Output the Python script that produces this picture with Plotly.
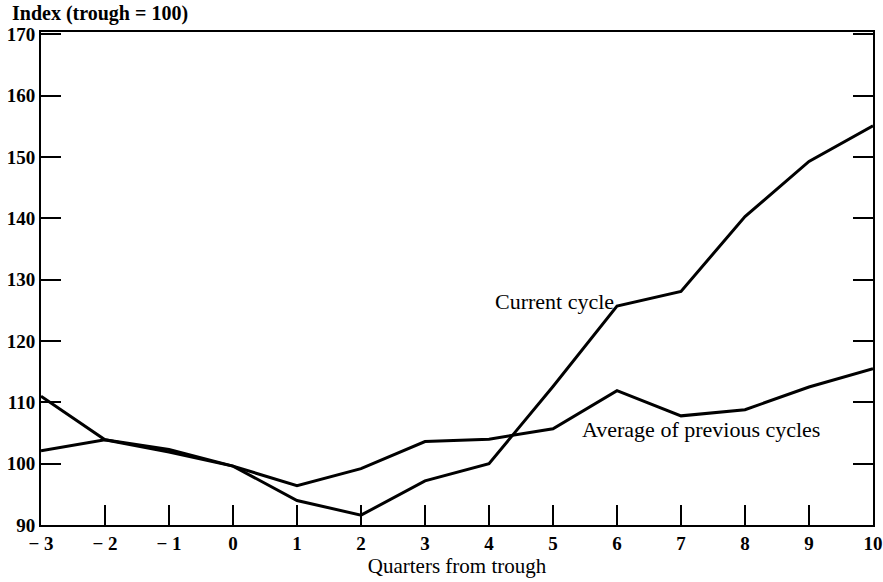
import plotly.graph_objects as go

quarters = [-3, -2, -1, 0, 1, 2, 3, 4, 5, 6, 7, 8, 9, 10]
current_cycle = [111.0, 103.9, 101.9, 99.6, 94.0, 91.6, 97.2, 100.0, 112.6, 125.7, 128.1, 140.3, 149.3, 155.1]
average_previous = [102.1, 103.9, 102.3, 99.6, 96.4, 99.2, 103.6, 104.0, 105.7, 111.9, 107.8, 108.8, 112.5, 115.5]

x_tickvals = quarters
x_ticktext = ["<b>\u2212 3</b>", "<b>\u2212 2</b>", "<b>\u2212 1</b>", "<b>0</b>", "<b>1</b>", "<b>2</b>",
              "<b>3</b>", "<b>4</b>", "<b>5</b>", "<b>6</b>", "<b>7</b>", "<b>8</b>", "<b>9</b>", "<b>10</b>"]
y_tickvals = [90, 100, 110, 120, 130, 140, 150, 160, 170]
y_ticktext = ["<b>%d</b>" % v for v in y_tickvals]

FONT = "Liberation Serif"

fig = go.Figure()
fig.add_trace(go.Scatter(x=quarters, y=current_cycle, mode="lines",
                         line=dict(color="black", width=3), name="Current cycle",
                         showlegend=False))
fig.add_trace(go.Scatter(x=quarters, y=average_previous, mode="lines",
                         line=dict(color="black", width=3), name="Average of previous cycles",
                         showlegend=False))

fig.update_layout(
    width=883, height=582,
    margin=dict(l=41, r=10, t=32, b=57),
    paper_bgcolor="white", plot_bgcolor="white",
    font=dict(family=FONT, color="black"),
    xaxis=dict(range=[-3, 10], tickvals=x_tickvals, ticktext=x_ticktext,
               ticks="inside", ticklen=20, tickwidth=2, tickcolor="black",
               showline=True, linewidth=2, linecolor="black", mirror=True,
               showgrid=False, zeroline=False, automargin=False,
               tickfont=dict(family=FONT, size=19, color="black"),
               title=dict(text="Quarters from trough", font=dict(family=FONT, size=21), standoff=4)),
    yaxis=dict(range=[90, 170.4], tickvals=y_tickvals, ticktext=y_ticktext,
               ticks="inside", ticklen=20, tickwidth=2, tickcolor="black",
               showline=True, linewidth=2, linecolor="black", mirror="ticks",
               showgrid=False, zeroline=False, automargin=False,
               tickfont=dict(family=FONT, size=19, color="black")),
    annotations=[
        dict(text="<b>Index (trough = 100)</b>", xref="paper", yref="paper",
             x=-31 / 832, y=1.0, xanchor="left", yanchor="bottom", yshift=5,
             showarrow=False, font=dict(family=FONT, size=20, color="black")),
        dict(text="Current cycle", x=4.06, y=126.5, xanchor="left", yanchor="middle",
             showarrow=False, font=dict(family=FONT, size=22, color="black")),
        dict(text="Average of previous cycles", x=5.42, y=105.6, xanchor="left", yanchor="middle",
             showarrow=False, font=dict(family=FONT, size=22, color="black")),
    ],
)

fig.write_html("out.html",
               config={"displayModeBar": False},
               post_script="document.body.style.margin='0';document.body.style.overflow='hidden';")
